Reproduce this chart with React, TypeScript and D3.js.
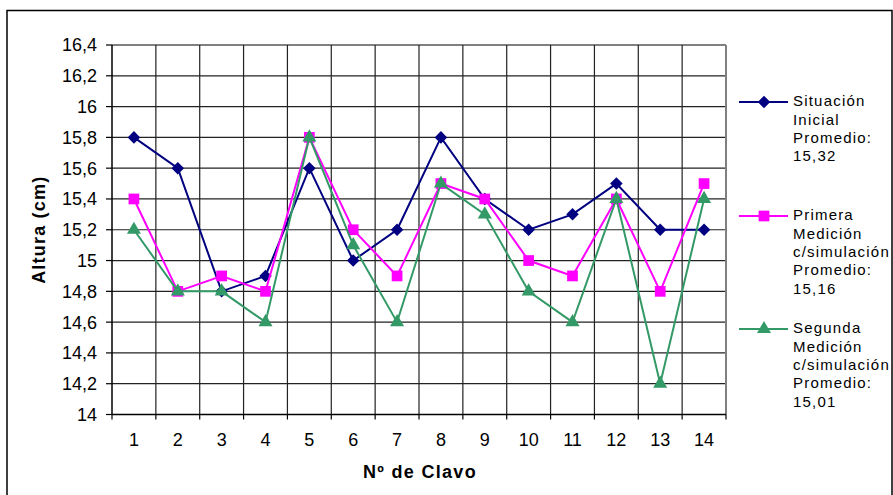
import React from "react";
import * as d3 from "d3";

const categories = ["1", "2", "3", "4", "5", "6", "7", "8", "9", "10", "11", "12", "13", "14"];
const situacionInicial = [15.8, 15.6, 14.8, 14.9, 15.6, 15.0, 15.2, 15.8, 15.4, 15.2, 15.3, 15.5, 15.2, 15.2];
const primeraMedicion = [15.4, 14.8, 14.9, 14.8, 15.8, 15.2, 14.9, 15.5, 15.4, 15.0, 14.9, 15.4, 14.8, 15.5];
const segundaMedicion = [15.2, 14.8, 14.8, 14.6, 15.8, 15.1, 14.6, 15.5, 15.3, 14.8, 14.6, 15.4, 14.2, 15.4];
const yTicks = [14, 14.2, 14.4, 14.6, 14.8, 15, 15.2, 15.4, 15.6, 15.8, 16, 16.2, 16.4];

const seriesDefs = [
  { name: ["Situación", "Inicial", "Promedio:", "15,32"], values: situacionInicial, color: "#000080", marker: "diamond" },
  { name: ["Primera", "Medición", "c/simulación", "Promedio:", "15,16"], values: primeraMedicion, color: "#FF00FF", marker: "square" },
  { name: ["Segunda", "Medición", "c/simulación", "Promedio:", "15,01"], values: segundaMedicion, color: "#339966", marker: "triangle" },
];

const W = 893, H = 495;
const plot = { left: 112, top: 45, right: 726, bottom: 414.5 };
const font = "'Liberation Sans', Arial, sans-serif";

function markerPath(kind: string) {
  if (kind === "diamond") return d3.symbol(d3.symbolDiamond2, 100)();
  if (kind === "square") return d3.symbol(d3.symbolSquare, 115)();
  return d3.symbol(d3.symbolTriangle, 85)();
}

export default function App() {
  const x = d3.scaleBand().domain(categories).range([plot.left, plot.right]);
  const y = d3.scaleLinear().domain([14, 16.4]).range([plot.bottom, plot.top]);
  const line = (vals: number[]) =>
    d3.line<number>().x((_, i) => (x(categories[i]) as number) + x.bandwidth() / 2).y((v) => y(v))(vals) as string;
  const fmt = (v: number) => String(+v.toFixed(1)).replace(".", ",");
  const bounds = categories.map((c) => x(c) as number).concat([plot.right]);
  const legendY = [102, 216, 329];

  return (
    <svg width={W} height={H} style={{ position: "absolute", left: 0, top: 0, background: "#fff" }} fontFamily={font}>
      <rect x={0} y={0} width={W} height={H} fill="#fff" />
      <rect x={7} y={10.5} width={885} height={500} fill="none" stroke="#000" strokeWidth={1.5} />
      {/* grid */}
      {yTicks.slice(1).map((t) => (
        <line key={"h" + t} x1={plot.left} x2={plot.right} y1={y(t)} y2={y(t)} stroke={t === 16.4 ? "#808080" : "#222"} strokeWidth={t === 16.4 ? 2 : 1.2} />
      ))}
      {bounds.slice(1).map((b, i) => (
        <line key={"v" + i} x1={b} x2={b} y1={plot.top} y2={plot.bottom} stroke={i === bounds.length - 2 ? "#808080" : "#222"} strokeWidth={i === bounds.length - 2 ? 2 : 1.2} />
      ))}
      {/* axes */}
      <line x1={plot.left} x2={plot.left} y1={plot.top} y2={plot.bottom} stroke="#000" strokeWidth={1.5} />
      <line x1={plot.left} x2={plot.right} y1={plot.bottom} y2={plot.bottom} stroke="#000" strokeWidth={1.5} />
      {yTicks.map((t) => (
        <g key={"yt" + t}>
          <line x1={plot.left - 6} x2={plot.left} y1={y(t)} y2={y(t)} stroke="#000" strokeWidth={1.2} />
          <text x={97} y={y(t)} dy="0.36em" textAnchor="end" fontSize={18} fill="#000">{fmt(t)}</text>
        </g>
      ))}
      {bounds.map((b, i) => (
        <line key={"xt" + i} x1={b} x2={b} y1={plot.bottom} y2={plot.bottom + 5} stroke="#000" strokeWidth={1.2} />
      ))}
      {categories.map((c) => (
        <text key={"xl" + c} x={(x(c) as number) + x.bandwidth() / 2} y={440} dy="0.36em" textAnchor="middle" fontSize={18} fill="#000">{c}</text>
      ))}
      <text x={420} y={472} dy="0.36em" textAnchor="middle" fontSize={18} fontWeight="bold" letterSpacing={1.3} fill="#000">Nº de Clavo</text>
      <text transform={`translate(39,${(plot.top + plot.bottom) / 2}) rotate(-90)`} dy="0.36em" textAnchor="middle" fontSize={18} fontWeight="bold" letterSpacing={1.2} fill="#000">Altura (cm)</text>
      {/* series */}
      {seriesDefs.map((s) => (
        <g key={s.name[0]}>
          <path d={line(s.values)} fill="none" stroke={s.color} strokeWidth={2} />
          {s.values.map((v, i) => (
            <path key={i} d={markerPath(s.marker) as string} transform={`translate(${(x(categories[i]) as number) + x.bandwidth() / 2},${y(v)})`} fill={s.color} />
          ))}
        </g>
      ))}
      {/* legend */}
      {seriesDefs.map((s, k) => (
        <g key={"lg" + k}>
          <line x1={739} x2={788} y1={legendY[k]} y2={legendY[k]} stroke={s.color} strokeWidth={2} />
          <path d={markerPath(s.marker) as string} transform={`translate(764,${legendY[k]})`} fill={s.color} />
          {s.name.map((t, j) => (
            <text key={j} x={793} y={legendY[k] - 1 + j * 18.3} dy="0.36em" fontSize={15} letterSpacing={1.2} fill="#000">{t}</text>
          ))}
        </g>
      ))}
    </svg>
  );
}
